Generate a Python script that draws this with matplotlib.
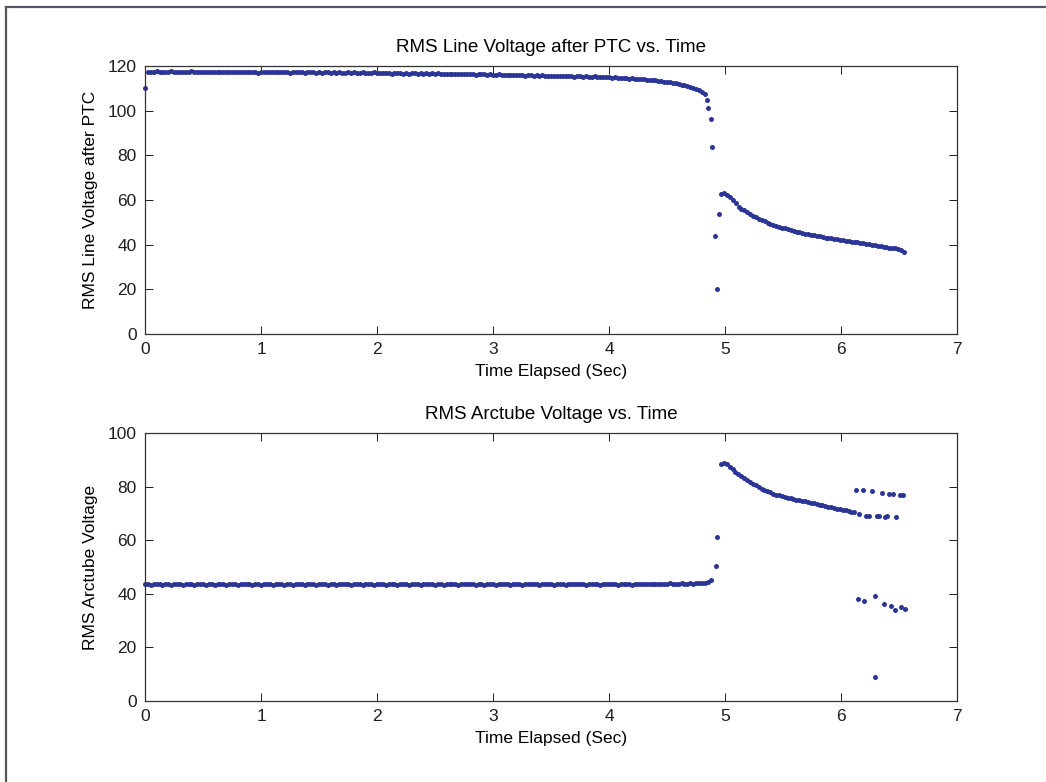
import numpy as np
import matplotlib
matplotlib.use("Agg")
import matplotlib.pyplot as plt
from matplotlib.lines import Line2D

plt.rcParams["font.family"] = ["Liberation Sans", "DejaVu Sans"]

# ---------------------------------------------------------------- data
SAMPLE_PERIOD = 0.025  # s between logged RMS samples

# RMS line voltage after PTC, steady part starting at t = 0 s
line_v_steady = [
    110.0, 117.2, 117.5, 117.3, 117.6, 117.4, 117.2, 117.5, 117.3, 117.6,
    117.4, 117.2, 117.5, 117.3, 117.1, 117.4, 117.6, 117.3, 117.2, 117.5,
    117.3, 117.4, 117.1, 117.3, 117.5, 117.2, 117.4, 117.3, 117.1, 117.4,
    117.2, 117.5, 117.3, 117.1, 117.4, 117.2, 117.3, 117.5, 117.2, 117.0,
    117.3, 117.5, 117.2, 117.4, 117.1, 117.3, 117.2, 117.4, 117.1, 117.3,
    117.0, 117.2, 117.4, 117.1, 117.3, 117.0, 117.2, 117.1, 117.3, 117.0,
    117.2, 116.9, 117.1, 117.3, 117.0, 117.2, 116.9, 117.1, 117.0, 116.8,
    117.1, 116.9, 117.2, 117.0, 116.8, 117.1, 116.9, 117.0, 116.8, 117.1,
    116.9, 116.7, 117.0, 116.8, 116.9, 116.6, 116.9, 116.7, 116.8, 116.6,
    116.8, 116.6, 116.9, 116.7, 116.5, 116.8, 116.6, 116.7, 116.5, 116.7,
    116.5, 116.7, 116.4, 116.6, 116.5, 116.3, 116.6, 116.4, 116.5, 116.3,
    116.5, 116.2, 116.4, 116.3, 116.1, 116.4, 116.2, 116.3, 116.0, 116.2,
    116.1, 115.9, 116.2, 116.0, 115.8, 116.1, 115.9, 116.0, 115.8, 116.0,
    115.9, 115.7, 115.9, 115.8, 115.6, 115.9, 115.7, 115.8, 115.5, 115.7,
    115.6, 115.4, 115.7, 115.5, 115.3, 115.6, 115.4, 115.5, 115.2, 115.4,
    115.3, 115.1, 115.4, 115.2, 115.0, 115.3, 115.1, 115.2, 114.9, 115.1,
    115.0, 114.8, 114.9, 114.7, 114.8, 114.5, 114.6, 114.4, 114.5, 114.2,
    114.3, 114.0, 114.1, 113.8, 113.9, 113.6, 113.6, 113.3, 113.3, 113.0,
    112.9, 112.7, 112.5, 112.2, 112.0, 111.7, 111.4, 111.1, 110.7, 110.3,
    109.8, 109.2, 108.4, 107.5,
]
# collapse when the PTC trips
line_t_transient = [4.843, 4.855, 4.875, 4.890, 4.918, 4.930, 4.944]
line_v_transient = [104.7, 101.0, 96.4, 83.7, 43.9, 20.2, 53.9]
# recovery, starting at t = 4.967 s
line_t_decay_start = 4.967
line_v_decay = [
    62.6, 63.0, 62.3, 61.2, 59.8, 58.5, 57.0, 56.0, 55.3, 54.6,
    53.9, 52.9, 52.3, 51.6, 51.0, 50.4, 49.8, 49.4, 48.8, 48.4,
    48.0, 47.6, 47.3, 46.8, 46.5, 46.1, 45.8, 45.5, 45.2, 44.9,
    44.7, 44.4, 44.2, 43.9, 43.7, 43.4, 43.2, 43.0, 42.8, 42.6,
    42.4, 42.2, 42.0, 41.8, 41.6, 41.4, 41.2, 41.0, 40.8, 40.6,
    40.4, 40.2, 40.0, 39.8, 39.6, 39.3, 39.1, 38.9, 38.7, 38.5,
    38.3, 38.1, 37.8, 36.8,
]

# RMS arctube voltage, steady part starting at t = 0 s
arc_v_steady = [
    43.5, 43.7, 43.4, 43.6, 43.8, 43.5, 43.3, 43.6, 43.7, 43.4,
    43.6, 43.8, 43.5, 43.4, 43.7, 43.5, 43.6, 43.3, 43.6, 43.8,
    43.5, 43.4, 43.7, 43.6, 43.3, 43.5, 43.8, 43.6, 43.4, 43.6,
    43.7, 43.5, 43.3, 43.6, 43.8, 43.5, 43.6, 43.4, 43.7, 43.5,
    43.4, 43.6, 43.8, 43.5, 43.3, 43.6, 43.7, 43.5, 43.4, 43.7,
    43.6, 43.4, 43.5, 43.8, 43.6, 43.3, 43.5, 43.7, 43.6, 43.4,
    43.5, 43.7, 43.6, 43.4, 43.8, 43.5, 43.3, 43.6, 43.7, 43.5,
    43.6, 43.3, 43.5, 43.7, 43.6, 43.4, 43.8, 43.6, 43.5, 43.3,
    43.6, 43.8, 43.5, 43.4, 43.7, 43.5, 43.6, 43.4, 43.8, 43.6,
    43.5, 43.3, 43.6, 43.7, 43.5, 43.4, 43.6, 43.8, 43.5, 43.6,
    43.4, 43.7, 43.5, 43.3, 43.6, 43.8, 43.6, 43.5, 43.4, 43.7,
    43.5, 43.6, 43.8, 43.5, 43.3, 43.6, 43.7, 43.4, 43.6, 43.5,
    43.7, 43.4, 43.6, 43.8, 43.5, 43.6, 43.3, 43.5, 43.7, 43.6,
    43.4, 43.6, 43.5, 43.7, 43.8, 43.5, 43.4, 43.6, 43.5, 43.7,
    43.6, 43.3, 43.5, 43.7, 43.6, 43.4, 43.6, 43.8, 43.5, 43.6,
    43.5, 43.7, 43.4, 43.6, 43.8, 43.5, 43.6, 43.4, 43.7, 43.5,
    43.6, 43.8, 43.5, 43.4, 43.7, 43.6, 43.5, 43.7, 43.4, 43.6,
    43.7, 43.5, 43.6, 43.8, 43.5, 43.7, 43.6, 43.5, 43.8, 43.6,
    43.7, 43.9, 43.6, 43.8, 43.7, 43.9, 43.7, 43.8, 44.0, 43.8,
    43.9, 44.0, 43.9, 44.0, 44.3, 45.3,
]
arc_t_transient = [4.920, 4.930]
arc_v_transient = [50.2, 61.2]
# restrike and recovery, starting at t = 4.965 s
arc_t_decay_start = 4.965
arc_v_decay = [
    88.4, 88.7, 88.3, 87.3, 86.5, 85.6, 84.8, 83.9, 83.2, 82.5,
    81.8, 81.1, 80.5, 79.7, 79.2, 78.7, 78.2, 77.8, 77.4, 77.0,
    76.7, 76.5, 76.2, 75.9, 75.6, 75.4, 75.1, 74.9, 74.7, 74.5,
    74.2, 74.0, 73.7, 73.5, 73.2, 73.0, 72.8, 72.5, 72.3, 72.0,
    71.8, 71.5, 71.3, 71.1, 70.9, 70.7, 70.5,
]
# unstable tail, sparse samples
arc_t_tail = [6.133, 6.147, 6.158, 6.187, 6.201, 6.216, 6.239, 6.268, 6.290,
              6.296, 6.310, 6.330, 6.351, 6.368, 6.382, 6.394, 6.414, 6.434,
              6.449, 6.463, 6.477, 6.509, 6.517, 6.535, 6.549]
arc_v_tail = [78.6, 38.1, 69.9, 78.9, 37.4, 69.2, 69.1, 78.2, 8.9,
              39.0, 69.1, 69.1, 77.6, 36.1, 68.6, 68.9, 77.4, 35.5,
              77.4, 33.9, 68.5, 77.0, 35.1, 77.0, 34.5]

x_ticks = [0, 1, 2, 3, 4, 5, 6, 7]
line_y_ticks = [0, 20, 40, 60, 80, 100, 120]
arc_y_ticks = [0, 20, 40, 60, 80, 100]


def sampled(start, values):
    return start + SAMPLE_PERIOD * np.arange(len(values)), np.asarray(values)


line_t1, line_v1 = sampled(0.0, line_v_steady)
line_t3, line_v3 = sampled(line_t_decay_start, line_v_decay)
line_t = np.concatenate([line_t1, line_t_transient, line_t3])
line_v = np.concatenate([line_v1, line_v_transient, line_v3])

arc_t1, arc_v1 = sampled(0.0, arc_v_steady)
arc_t3, arc_v3 = sampled(arc_t_decay_start, arc_v_decay)
arc_t = np.concatenate([arc_t1, arc_t_transient, arc_t3, arc_t_tail])
arc_v = np.concatenate([arc_v1, arc_v_transient, arc_v3, arc_v_tail])

# ---------------------------------------------------------------- figure
W, H = 1046, 782
fig = plt.figure(figsize=(W / 100, H / 100), dpi=100)
fig.patch.set_facecolor("white")

DOT = "#2a3596"
FS = 12.5


def px_axes(left, top, right, bottom):
    return fig.add_axes([left / W, 1 - bottom / H, (right - left) / W, (bottom - top) / H])


def style(ax, yticks, ylim):
    ax.set_xlim(0, 7)
    ax.set_ylim(*ylim)
    ax.set_xticks(x_ticks)
    ax.set_yticks(yticks)
    ax.tick_params(direction="in", top=True, right=True, length=6, width=0.7,
                   labelsize=FS, pad=6, colors="#1e1e1e")
    for s in ax.spines.values():
        s.set_linewidth(0.9)
        s.set_color("#333333")


ax1 = px_axes(145, 66, 957, 334)
ax1.plot(line_t, line_v, linestyle="none", marker="o", ms=3.6, mew=0,
         color=DOT, clip_on=False)
style(ax1, line_y_ticks, (0, 120))
ax1.set_title("RMS Line Voltage after PTC vs. Time", fontsize=13.5, pad=10)
ax1.set_xlabel("Time Elapsed (Sec)", fontsize=FS, labelpad=5)
ax1.set_ylabel("RMS Line Voltage after PTC", fontsize=FS, labelpad=7)

ax2 = px_axes(145, 433, 957, 701)
ax2.plot(arc_t, arc_v, linestyle="none", marker="o", ms=3.6, mew=0,
         color=DOT, clip_on=False)
style(ax2, arc_y_ticks, (0, 100))
ax2.set_title("RMS Arctube Voltage vs. Time", fontsize=13.5, pad=10)
ax2.set_xlabel("Time Elapsed (Sec)", fontsize=FS, labelpad=5)
ax2.set_ylabel("RMS Arctube Voltage", fontsize=FS, labelpad=7)

# outer frame of the page
fig.add_artist(Line2D([6 / W, 6 / W], [0, 1 - 7 / H], color="#555555", lw=1.6))
fig.add_artist(Line2D([6 / W, 1], [1 - 7 / H, 1 - 7 / H], color="#555566", lw=1.6))

fig.savefig("out.png", dpi=100, facecolor="white")
